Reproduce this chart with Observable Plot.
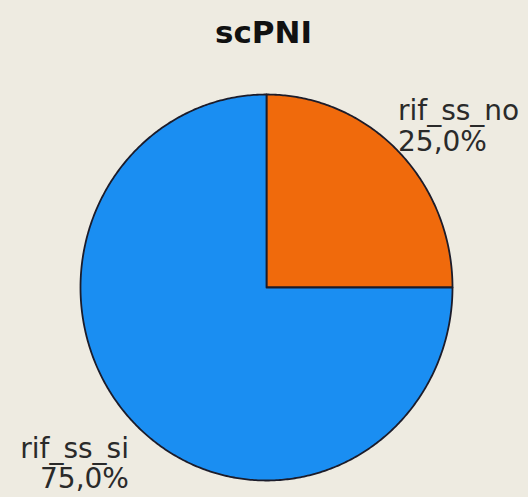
<!DOCTYPE html>
<html>
<head>
<meta charset="utf-8">
<script src="https://cdn.jsdelivr.net/npm/d3@7"></script>
<script src="https://cdn.jsdelivr.net/npm/@observablehq/plot@0.6"></script>
<style>
  html, body { margin: 0; padding: 0; background: #EEEBE1; }
  #chart { width: 528px; height: 497px; }
</style>
</head>
<body>
<div id="chart"></div>
<script>
const title = "scPNI";
const categories = ["rif_ss_no", "rif_ss_si"];
const values = [25, 75];
const colors = ["#F06A0C", "#1A8EF2"];

const data = categories.map((c, i) => ({label: c, value: values[i]}));
const total = d3.sum(values);
const arcs = d3.pie().sort(null).value(d => d.value)(data);

// outline points of each slice (unit circle; x = sin, y = cos)
const pts = [];
for (const a of arcs) {
  pts.push({label: a.data.label, x: 0, y: 0});
  const n = Math.max(2, Math.ceil((a.endAngle - a.startAngle) / 0.01));
  for (let k = 0; k <= n; k++) {
    const t = a.startAngle + (a.endAngle - a.startAngle) * k / n;
    pts.push({label: a.data.label, x: Math.sin(t), y: Math.cos(t)});
  }
}

const fmt = v => (v / total * 100).toFixed(1).replace(".", ",") + "%";
const labels = arcs.map(a => {
  const m = (a.startAngle + a.endAngle) / 2;
  return {label: a.data.label, x: Math.sin(m), y: Math.cos(m), text: a.data.label + "\n" + fmt(a.data.value)};
});

const chart = Plot.plot({
  width: 528,
  height: 497,
  margin: 0,
  style: {background: "#EEEBE1", fontFamily: "DejaVu Sans, sans-serif"},
  x: {domain: [-1, 1], range: [80, 452], axis: null},
  y: {domain: [-1, 1], range: [480, 94], axis: null},
  color: {domain: categories, range: colors},
  marks: [
    Plot.line(pts, {x: "x", y: "y", z: "label", fill: "label", stroke: "#1c1c2a", strokeWidth: 1.8, curve: "linear-closed", strokeLinejoin: "round"}),
    Plot.text(labels.filter(d => d.x >= 0), {x: "x", y: "y", text: "text", textAnchor: "start", lineAnchor: "bottom", lineHeight: 1.1, fontSize: 28, fill: "#2a2a2a", dx: 0, dy: 0}),
    Plot.text(labels.filter(d => d.x < 0), {x: "x", y: "y", text: "text", textAnchor: "end", lineAnchor: "top", lineHeight: 1.07, fontSize: 28, fill: "#2a2a2a", dx: -6, dy: 13}),
    Plot.text([title], {frameAnchor: "top", text: d => d, lineAnchor: "top", fontSize: 31, fontWeight: "bold", fill: "#111", dx: -1, dy: 20})
  ]
});
document.getElementById("chart").append(chart);
</script>
</body>
</html>
